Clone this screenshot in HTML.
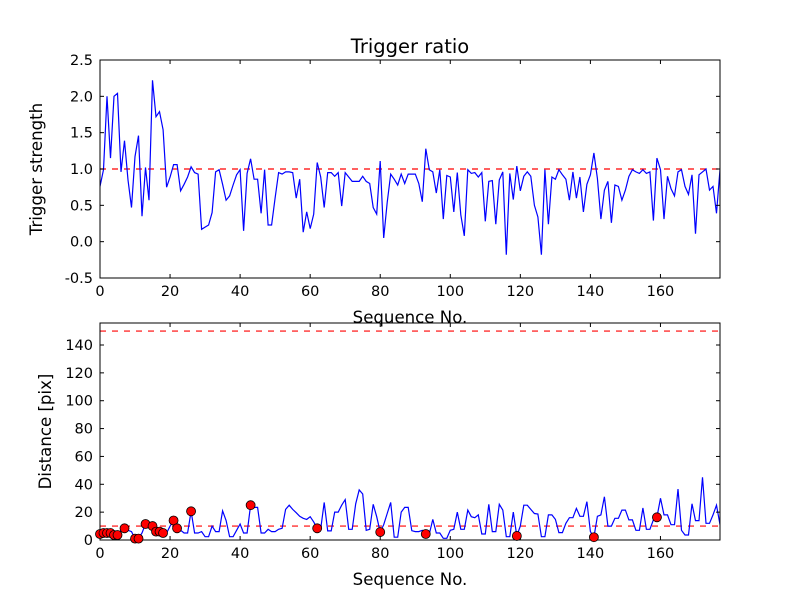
<!DOCTYPE html>
<html><head><meta charset="utf-8"><style>
body{margin:0;background:#fff}
svg{display:block;font-family:"DejaVu Sans","Liberation Sans",sans-serif}
</style></head><body>
<svg id="c" width="800" height="600" viewBox="0 0 800 600">
<rect width="800" height="600" fill="#fff"/>
<text x="410" y="53" font-size="19.5" text-anchor="middle">Trigger ratio</text>
</svg>
<script>
const ratio=[0.76,0.99,2.0,1.15,2.0,2.04,0.96,1.39,0.85,0.47,1.17,1.46,0.35,1.02,0.57,2.22,1.72,1.79,1.54,0.75,0.89,1.06,1.06,0.70,0.79,0.89,1.03,0.95,0.93,0.17,0.20,0.23,0.40,0.96,0.99,0.79,0.57,0.63,0.78,0.92,0.99,0.15,0.94,1.14,0.86,0.86,0.39,0.99,0.23,0.23,0.60,0.95,0.93,0.96,0.96,0.95,0.60,0.86,0.13,0.41,0.18,0.38,1.09,0.89,0.47,0.95,0.95,0.90,0.95,0.49,0.95,0.89,0.83,0.83,0.83,0.90,0.83,0.80,0.47,0.38,1.11,0.05,0.54,0.93,0.86,0.78,0.93,0.80,0.93,0.93,0.93,0.80,0.55,1.28,0.99,0.96,0.67,0.99,0.31,0.91,0.89,0.41,0.95,0.37,0.08,0.99,0.94,0.95,0.89,0.95,0.28,0.83,0.84,0.24,0.85,0.96,-0.18,0.94,0.58,1.04,0.70,0.90,0.96,0.90,0.50,0.34,-0.18,0.99,0.24,0.89,0.86,0.99,0.92,0.86,0.57,0.96,0.60,0.89,0.41,0.79,0.92,1.22,0.87,0.31,0.71,0.83,0.26,0.78,0.76,0.57,0.71,0.90,0.99,0.96,0.94,0.99,0.94,0.96,0.29,1.15,0.99,0.31,0.90,0.73,0.63,0.96,0.99,0.76,0.65,0.92,0.11,0.92,0.96,1.00,0.71,0.76,0.39,0.99];
const dist=[4.3,5,5,5,3.6,3.6,7,8.4,7,6,1,1,5,11.5,12,10,6,6,5,5,10,14,8.4,7,5,5,20.6,5,5,6,2.4,2.4,10,6,6,21,14,2.4,2.4,7,11.5,5,5,25,23.4,23.4,5,5,7.7,6,6,7.7,8.4,22,25,22,19.6,17,15.6,14.8,16.7,13,8.4,8,27,6.5,6.5,20,20,25,29,7.7,7.7,26,36,33,7,7.7,25.6,16.7,5.7,11,19,27,2,2,20,23.4,23.4,6.7,6,6,7,4.3,4.3,14.8,5,5,1.2,1.2,7,7.7,20,7.7,7.7,21.5,16.7,16,18,4.3,4.3,25.6,6,6,25.6,21.5,2.4,2.4,20,2.9,10,25,25,22,19,18.7,2.4,2.4,18,18,14.8,5.3,5.3,12,16,16,22.7,17,17,27.5,6,2,17,18,31,10,10,15.6,15.6,21.5,21.5,14.4,14.4,7,7,23,7.7,7.7,14.4,16.3,30,18,18,11,11,36.6,7,3.6,3.6,26,13.9,13.9,45,12,12,18,25,11];
const markIdx=[0,1,2,3,4,5,7,10,11,13,15,16,17,18,21,22,26,43,62,80,93,119,141,159];
const topTicks=[-0.5,0.0,0.5,1.0,1.5,2.0,2.5];
const botTicks=[0,20,40,60,80,100,120,140];
const xTicks=[0,20,40,60,80,100,120,140,160];
const ratioThreshold=[1.0];
const distThresholds=[10,150];

const svg=document.getElementById('c');
const NS='http://www.w3.org/2000/svg';
function mk(tag,at,parent){const e=document.createElementNS(NS,tag);for(const k in at)e.setAttribute(k,at[k]);(parent||svg).appendChild(e);return e;}
const X0=100,X1=720,XMAX=177;
const sx=v=>X0+(X1-X0)*v/XMAX;

function panel(name,top,bot,ymin,ymax,yt,fmt,data,thr,ylabel,yLabelX){
  const sy=v=>bot-(bot-top)*(v-ymin)/(ymax-ymin);
  const g=mk('g',{});
  
  
  const clip=mk('clipPath',{id:name+'clip'},g);
  mk('rect',{x:X0,y:top,width:X1-X0,height:bot-top},clip);
  thr.forEach(t=>{const l=mk('line',{x1:X0,x2:X1,y1:sy(t),y2:sy(t),stroke:'#ff0000','stroke-width':1.2,'stroke-dasharray':'6,6'},g);
    
    });
  const pl=mk('polyline',{points:data.map((v,i)=>sx(i).toFixed(1)+','+sy(v).toFixed(1)).join(' '),fill:'none',stroke:'#0000ff','stroke-width':1.2,'clip-path':'url(#'+name+'clip)'},g);
  
  
  mk('rect',{x:X0,y:top,width:X1-X0,height:bot-top,fill:'none',stroke:'#000','stroke-width':1},g);
  yt.forEach(t=>{const y=sy(t);
    mk('line',{x1:X0,x2:X0+4,y1:y,y2:y,stroke:'#000'},g);
    mk('line',{x1:X1-4,x2:X1,y1:y,y2:y,stroke:'#000'},g);
    const tx=mk('text',{x:X0-7,y:y+5,'font-size':14.5,'text-anchor':'end'},g);tx.textContent=fmt(t);
    
    });
  xTicks.forEach(t=>{const x=sx(t);
    mk('line',{x1:x,x2:x,y1:bot,y2:bot-4,stroke:'#000'},g);
    mk('line',{x1:x,x2:x,y1:top,y2:top+4,stroke:'#000'},g);
    const tx=mk('text',{x:x,y:bot+18,'font-size':14.5,'text-anchor':'middle'},g);tx.textContent=t;
    
    });
  const xl=mk('text',{x:410,y:bot+45,'font-size':16.6,'text-anchor':'middle'},g);xl.textContent='Sequence No.';
  
  
  const yl=mk('text',{x:yLabelX,y:(top+bot)/2,'font-size':16.6,'text-anchor':'middle',transform:'rotate(-90 '+yLabelX+' '+(top+bot)/2+')'},g);yl.textContent=ylabel;
  
  
  return sy;
}
panel('ratio',60,278,-0.5,2.5,topTicks,v=>v.toFixed(1),ratio,ratioThreshold,'Trigger strength',42);
const sy2=panel('distance',323,540,0,155.8,botTicks,v=>String(v),dist,distThresholds,'Distance [pix]',51);
markIdx.forEach(i=>{const c=mk('circle',{cx:sx(i),cy:sy2(dist[i]),r:4.5,fill:'#ff0000',stroke:'#000','stroke-width':0.8});
  
  });
</script>
</body></html>
